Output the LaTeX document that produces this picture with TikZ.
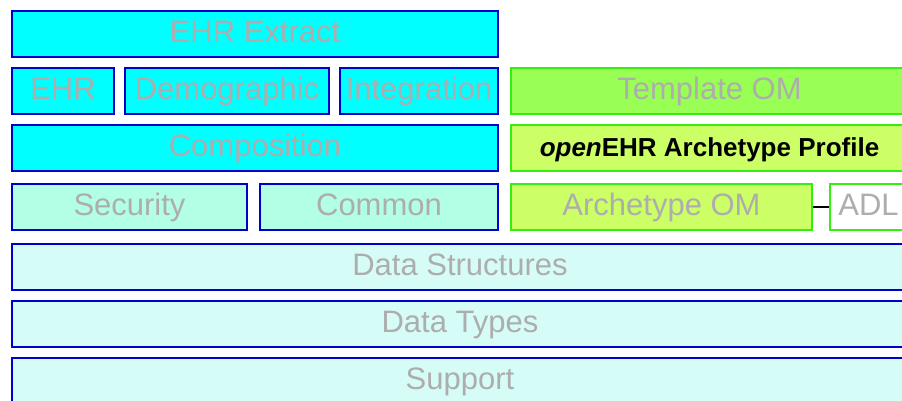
\documentclass[tikz,border=0pt]{standalone}
\usepackage{fontspec}
\setmainfont{Liberation Sans}
\usepackage{tikz}
\usetikzlibrary{positioning}

\definecolor{rmblue}{HTML}{0000CC}
\definecolor{amgreen}{HTML}{33EE11}
\definecolor{rmcyan}{HTML}{00FFFF}
\definecolor{tomfill}{HTML}{99FF55}
\definecolor{aomfill}{HTML}{CCFF66}
\definecolor{mintfill}{HTML}{B3FFE6}
\definecolor{palefill}{HTML}{D6FCF8}
\definecolor{labelgray}{HTML}{ADADAD}

\begin{document}
\begin{tikzpicture}[
  x=1pt, y=-1pt,
  layer/.style = {draw, line width=2pt, anchor=north west, inner sep=0pt,
                  minimum height=46, text=labelgray, text height=17, text depth=0,
                  font=\fontsize{31}{31}\selectfont},
  rmbox/.style = {layer, draw=rmblue, fill=rmcyan},
  basebox/.style = {layer, draw=rmblue, fill=palefill},
  svcbox/.style = {layer, draw=rmblue, fill=mintfill},
  ambox/.style = {layer, draw=amgreen, fill=aomfill},
  link/.style = {line width=2pt}
]
  \clip (0,0) rectangle (902,400);

  % Reference model, upper part
  \node[rmbox, minimum width=486] (extract) at (11,10) {EHR Extract};
  \node[rmbox, minimum width=102] (ehr) at (11,67) {EHR};
  \node[rmbox, minimum width=204] (demog) at (124,67) {Demographic};
  \node[rmbox, minimum width=158] (integr) at (339,67) {Integration};
  \node[rmbox, minimum width=486] (compos) at (11,124) {Composition};
  \node[svcbox, minimum width=235] (secur) at (11,183) {Security};
  \node[svcbox, minimum width=238] (common) at (259,183) {Common};

  % Archetype side
  \node[ambox, fill=tomfill, minimum width=397] (tmplom) at (510,67) {Template OM};
  \node[ambox, minimum width=397, text=black, text height=16,
        font=\fontsize{26}{26}\selectfont\bfseries] (profile) at (510,124)
        {\textit{open}EHR Archetype Profile};
  \node[ambox, minimum width=301] (archom) at (510,183) {Archetype OM};
  \node[ambox, fill=white, minimum width=77] (adl) at (829,183) {ADL};
  \draw[link] (archom.east) -- (adl.west);

  % Base layers
  \node[basebox, minimum width=896] (datastr) at (11,243) {Data Structures};
  \node[basebox, minimum width=896] (datatyp) at (11,300) {Data Types};
  \node[basebox, minimum width=896] (support) at (11,357) {Support};

\end{tikzpicture}
\end{document}
